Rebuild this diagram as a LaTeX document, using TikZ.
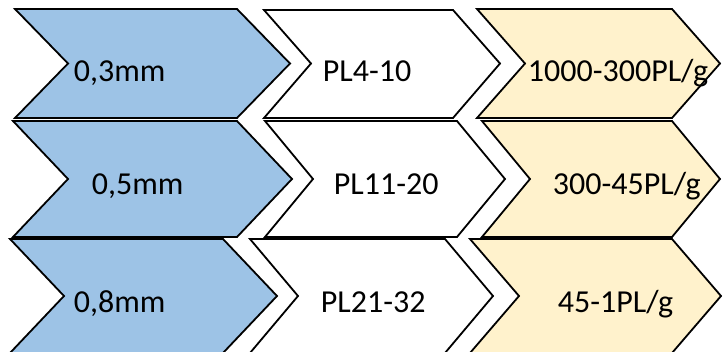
\documentclass[tikz,border=0pt]{standalone}
\usepackage{fontspec}
\setmainfont{Carlito}
\usepackage{tikz}

\definecolor{sizeblue}{RGB}{157,195,230}
\definecolor{countyellow}{RGB}{255,242,204}

\begin{document}
\begin{tikzpicture}[x=1pt, y=-1pt, line width=1.8pt, line join=miter,
    label text/.style={anchor=base west, inner sep=0pt, font=\fontsize{32}{38}\selectfont}]

        \useasboundingbox (0,0) rectangle (723,352);
        \fill[white] (0,0) rectangle (723,352);

        % row 1
        \filldraw[fill=sizeblue, draw=black] (15,9)--(237,9)--(290,63.5)--(237,118)--(15,118)--(68,63.5)--cycle;
        \filldraw[fill=white, draw=black] (264,10)--(453,10)--(500,63.5)--(453,118)--(264,118)--(311,63.5)--cycle;
        \filldraw[fill=countyellow, draw=black] (477,9)--(672,9)--(720,63.5)--(672,118)--(477,118)--(525,63.5)--cycle;
        \node[label text] (size1) at (73,82) {0,3mm};
        \node[label text] (grade1) at (322,82) {PL4-10};
        \node[label text] (count1) at (527,82) {1000-300PL/g};

        % row 2
        \filldraw[fill=sizeblue, draw=black] (13,121)--(237,121)--(292,179)--(237,237)--(13,237)--(68,179)--cycle;
        \filldraw[fill=white, draw=black] (265,121)--(457,121)--(505,179)--(457,237)--(265,237)--(313,179)--cycle;
        \filldraw[fill=countyellow, draw=black] (482,121)--(672,121)--(720,179)--(672,237)--(482,237)--(530,179)--cycle;
        \node[label text] (size2) at (91,195) {0,5mm};
        \node[label text] (grade2) at (333,195) {PL11-20};
        \node[label text] (count2) at (552,195) {300-45PL/g};

        % row 3
        \filldraw[fill=sizeblue, draw=black] (10,239)--(223,239)--(277,296)--(223,353)--(10,353)--(64,296)--cycle;
        \filldraw[fill=white, draw=black] (250,239)--(445,239)--(493,296)--(445,353)--(250,353)--(298,296)--cycle;
        \filldraw[fill=countyellow, draw=black] (470,239)--(672,239)--(721,296)--(672,353)--(470,353)--(519,296)--cycle;
        \node[label text] (size3) at (73,313) {0,8mm};
        \node[label text] (grade3) at (320,313) {PL21-32};
        \node[label text] (count3) at (557,313) {45-1PL/g};

\end{tikzpicture}
\end{document}
